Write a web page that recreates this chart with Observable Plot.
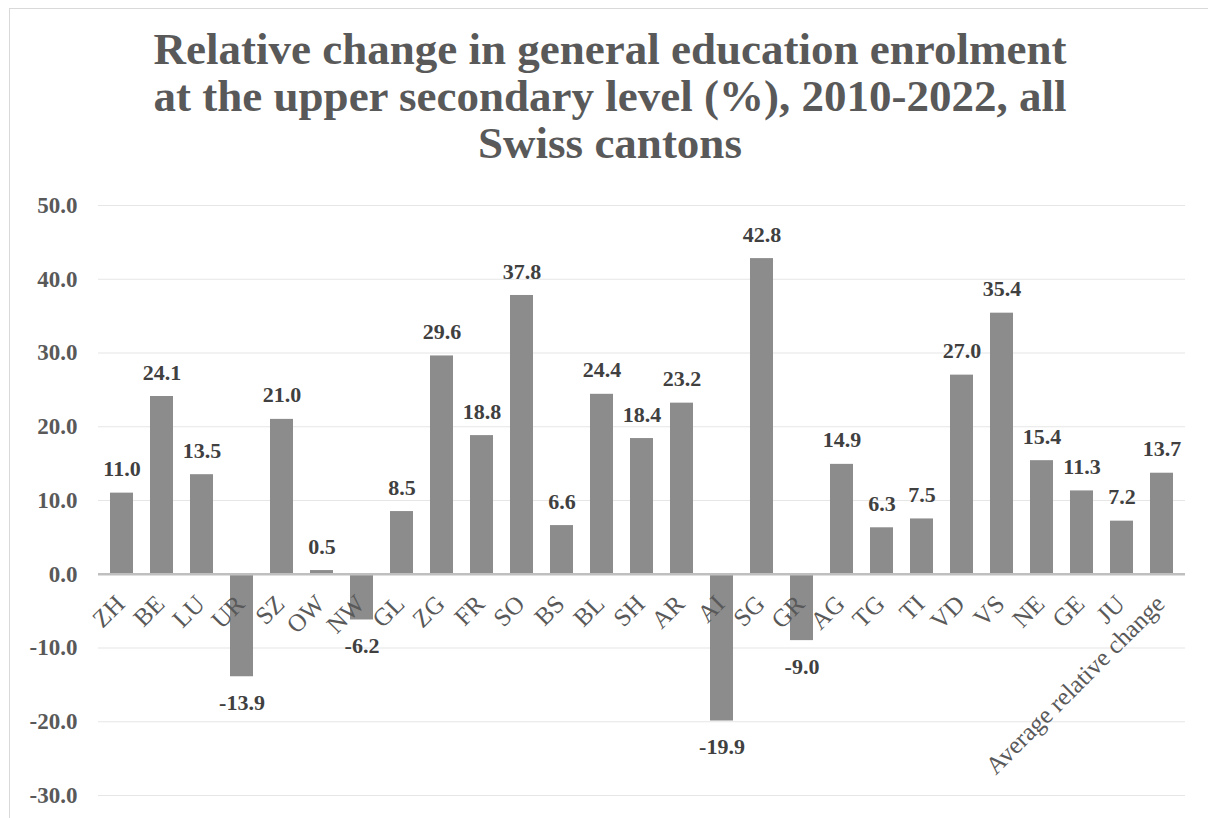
<!DOCTYPE html>
<html>
<head>
<meta charset="utf-8">
<script src="https://cdn.jsdelivr.net/npm/d3@7"></script>
<script src="https://cdn.jsdelivr.net/npm/@observablehq/plot@0.6"></script>
<style>
  html, body { margin: 0; padding: 0; background: #fff; }
  body { width: 1208px; height: 818px; overflow: hidden; position: relative; }
  #frame { position: absolute; left: 9px; top: 8px; width: 1260px; height: 900px; border: 1px solid #d9d9d9; box-sizing: border-box; }
  #title { position: absolute; left: 0; top: 26px; width: 1220px; text-align: center;
    font-family: "Liberation Serif", "DejaVu Serif", serif; font-size: 45px; line-height: 47px; font-weight: bold; color: #595959; }
  #chart { position: absolute; left: 0; top: 185px; }
</style>
</head>
<body>
<div id="frame"></div>
<div id="title">Relative change in general education enrolment<br>at the upper secondary level (%), 2010-2022, all<br>Swiss cantons</div>
<div id="chart"></div>
<script>
// Cantons (plus the overall average) and their relative change in enrolment, %
const cantons = ["ZH", "BE", "LU", "UR", "SZ", "OW", "NW", "GL", "ZG", "FR", "SO", "BS", "BL",
  "SH", "AR", "AI", "SG", "GR", "AG", "TG", "TI", "VD", "VS", "NE", "GE", "JU", "Average relative change"];
const changes = [11.0, 24.1, 13.5, -13.9, 21.0, 0.5, -6.2, 8.5, 29.6, 18.8, 37.8, 6.6, 24.4,
  18.4, 23.2, -19.9, 42.8, -9.0, 14.9, 6.3, 7.5, 27.0, 35.4, 15.4, 11.3, 7.2, 13.7];
const yTicks = [-30, -20, -10, 0, 10, 20, 30, 40, 50];

const rows = cantons.map((canton, i) => ({canton, change: changes[i]}));
const positive = rows.filter(d => d.change >= 0);
const negative = rows.filter(d => d.change < 0);

const serif = "Liberation Serif, DejaVu Serif, serif";

const chart = Plot.plot({
  width: 1208,
  height: 633,
  marginTop: 20,
  marginBottom: 23,
  marginLeft: 98,
  marginRight: 23,
  style: {fontFamily: serif, background: "transparent"},
  x: {domain: cantons, paddingInner: 0.43, paddingOuter: 0.215, axis: null},
  y: {domain: [-30, 50], axis: null},
  marks: [
    Plot.gridY(yTicks, {stroke: "#e6e6e6", strokeOpacity: 1, strokeWidth: 1.2}),
    Plot.axisY(yTicks, {
      label: null, tickSize: 0, tickPadding: 21, tickFormat: d => d.toFixed(1),
      fontSize: 23, fontWeight: "bold", fill: "#595959"
    }),
    Plot.barY(rows, {x: "canton", y: "change", fill: "#8c8c8c"}),
    Plot.ruleY([0], {stroke: "#bfbfbf", strokeWidth: 2.5}),
    Plot.text(positive, {
      x: "canton", y: "change", text: d => d.change.toFixed(1),
      lineAnchor: "middle", dy: -24, fontSize: 22, fontWeight: "bold", fill: "#404040"
    }),
    Plot.text(negative, {
      x: "canton", y: "change", text: d => d.change.toFixed(1),
      lineAnchor: "middle", dy: 26, fontSize: 22, fontWeight: "bold", fill: "#404040"
    }),
    Plot.text(cantons, {
      x: d => d, y: () => 0, text: d => d,
      rotate: -45, textAnchor: "end", lineAnchor: "middle",
      dx: -1.5, dy: 25.5, fontSize: 25, fill: "#595959"
    })
  ]
});
document.getElementById("chart").appendChild(chart);
</script>
</body>
</html>
